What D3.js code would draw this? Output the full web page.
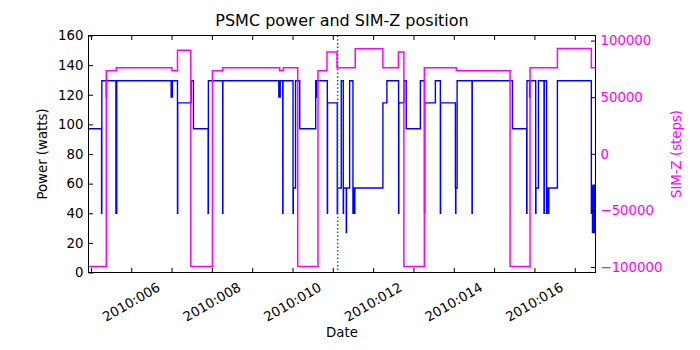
<!DOCTYPE html>
<html>
<head>
<meta charset="utf-8">
<script src="https://cdn.jsdelivr.net/npm/d3@7"></script>
<style>
  html, body { margin: 0; padding: 0; background: #fff; }
  svg { display: block; font-family: "DejaVu Sans", sans-serif; }
</style>
</head>
<body>
<svg id="chart" width="700" height="350"></svg>
<script>
// PSMC power (watts) vs. day of year 2010, as a step series
const powerDoy = [4.94, 5.264, 5.270, 5.381, 5.390, 5.620, 5.640, 6.990, 7.020, 7.147, 7.153,
  7.486, 7.543, 7.907, 7.913, 8.267, 8.273, 9.660, 9.695, 9.758, 9.764, 10.013, 10.019,
  10.075, 10.179, 10.575, 10.590, 10.600, 10.863, 10.869, 11.110, 11.116, 11.209, 11.259,
  11.265, 11.333, 11.339, 11.417, 11.499, 11.505, 11.520, 11.526, 11.540, 11.546, 12.242,
  12.341, 12.631, 12.637, 12.762, 12.820, 13.171, 13.275, 13.281, 13.543, 13.667, 13.673,
  14.040, 14.046, 14.052, 14.083, 14.452, 14.458, 15.455, 15.809, 15.815, 15.880, 15.890,
  16.032, 16.038, 16.099, 16.238, 16.244, 16.300, 16.306, 16.325, 16.331, 16.350, 16.356,
  16.570, 17.412, 17.420, 17.440, 17.450, 17.465, 17.475, 17.490, 17.515];
const powerWatts = [97, 40, 129.5, 118.5, 129.5, 40, 129.5, 118.5, 129.5, 40, 114.5,
  129.5, 97, 40, 129.5, 40, 129.5, 118.5, 129.5, 40, 129.5, 40, 57,
  129.5, 97, 129.5, 118.5, 129.5, 40, 114.5, 40, 57, 129.5, 40,
  57, 27, 57, 129.5, 40, 57, 40, 57, 40, 57, 114.5,
  129.5, 40, 114.5, 129.5, 97, 129.5, 40, 114.5, 129.5, 40, 114.5,
  57, 40, 57, 129.5, 40, 129.5, 97, 40, 129.5, 118.5, 129.5,
  40, 57, 129.5, 40, 129.5, 40, 57, 40, 57, 40, 57,
  129.5, 40, 57, 27, 59, 40, 27, 59, 59];

// SIM-Z translation stage position (steps)
const simzDoy = [4.94, 5.381, 5.628, 7.008, 7.147, 7.478, 8.014, 8.271, 9.683, 9.773, 10.129,
  10.632, 10.855, 11.103, 11.556, 12.242, 12.626, 12.762, 13.270, 14.063, 15.396, 15.891,
  16.570, 17.412, 17.515];
const simzSteps = [-99600, 73300, 76000, 73300, 91500, -99600, 73300, 76000, 73300, 76000, -99600,
  73300, 89900, 76000, 92800, 76000, 89900, -99600, 76000, 73300, -99600, 76000,
  93000, 76000, 76000];

// Marker time (dotted green line)
const markerDoy = 11.12;

const xTickDays = d3.range(5, 18);
const xLabelDays = [6, 8, 10, 12, 14, 16];
const powerTicks = [0, 20, 40, 60, 80, 100, 120, 140, 160];
const simzTicks = [-100000, -50000, 0, 50000, 100000];

const doyToDate = d => new Date(Date.UTC(2010, 0, 1) + (d - 1) * 86400000);

const svg = d3.select("#chart");
const plotL = 88.5, plotR = 595.5, plotT = 35.5, plotB = 272.5;

const x = d3.scaleUtc().domain([doyToDate(4.94), doyToDate(17.515)]).range([plotL, plotR]);
const yP = d3.scaleLinear().domain([0, 160]).range([plotB, plotT]);
const yS = d3.scaleLinear().domain([-104900, 104500]).range([plotB, plotT]);
const fmt = d3.utcFormat("%Y:%j");

svg.append("defs").append("clipPath").attr("id", "plotclip")
  .append("rect").attr("x", plotL).attr("y", plotT).attr("width", plotR - plotL).attr("height", plotB - plotT);

const plot = svg.append("g").attr("clip-path", "url(#plotclip)");

// Power series
const powerPts = powerDoy.map((d, i) => [doyToDate(d), powerWatts[i]]);
plot.append("path")
  .attr("d", d3.line().x(p => x(p[0])).y(p => yP(p[1])).curve(d3.curveStepAfter)(powerPts))
  .attr("fill", "none").attr("stroke", "#0000ff").attr("stroke-width", 1.4);

// SIM-Z series
const simzPts = simzDoy.map((d, i) => [doyToDate(d), simzSteps[i]]);
plot.append("path")
  .attr("d", d3.line().x(p => x(p[0])).y(p => yS(p[1])).curve(d3.curveStepAfter)(simzPts))
  .attr("fill", "none").attr("stroke", "#ff00ff").attr("stroke-width", 1.5);

// Marker line
plot.append("line")
  .attr("x1", x(doyToDate(markerDoy))).attr("x2", x(doyToDate(markerDoy)))
  .attr("y1", plotT).attr("y2", plotB)
  .attr("stroke", "#008000").attr("stroke-width", 1.5).attr("stroke-dasharray", "1.5,2.2");

// Axes with inward ticks
const tickDates = xTickDays.map(doyToDate);

const xBottom = svg.append("g").attr("transform", `translate(0,${plotB})`)
  .call(d3.axisBottom(x).tickValues(tickDates).tickSizeInner(-4.5).tickSizeOuter(0).tickFormat(""));
const xTop = svg.append("g").attr("transform", `translate(0,${plotT})`)
  .call(d3.axisTop(x).tickValues(tickDates).tickSizeInner(-4.5).tickSizeOuter(0).tickFormat(""));

const yLeft = svg.append("g").attr("transform", `translate(${plotL},0)`)
  .call(d3.axisLeft(yP).tickValues(powerTicks).tickSizeInner(-4.5).tickSizeOuter(0).tickPadding(5));
const yRight = svg.append("g").attr("transform", `translate(${plotR},0)`)
  .call(d3.axisRight(yS).tickValues(simzTicks).tickSizeInner(-4.5).tickSizeOuter(0).tickPadding(5)
    .tickFormat(d3.format("d")));

[xBottom, xTop, yLeft, yRight].forEach(g => {
  g.select(".domain").remove();
  g.selectAll(".tick line").attr("stroke", "#000").attr("stroke-width", 1);
  g.selectAll("text").attr("font-family", "DejaVu Sans").attr("font-size", 13.3);
});
yLeft.selectAll("text").attr("fill", "#000");
yRight.selectAll("text").attr("fill", "#ff00ff");

// Rotated date labels
svg.append("g").selectAll("text").data(xLabelDays).join("text")
  .attr("transform", d => `translate(${x(doyToDate(d))},302) rotate(-30)`)
  .attr("text-anchor", "middle").attr("dy", "0.35em")
  .attr("font-size", 13.3).attr("fill", "#000")
  .text(d => fmt(doyToDate(d)));

// Frame
svg.append("rect").attr("x", plotL).attr("y", plotT).attr("width", plotR - plotL).attr("height", plotB - plotT)
  .attr("fill", "none").attr("stroke", "#000").attr("stroke-width", 1);

// Titles and axis labels
svg.append("text").attr("x", (plotL + plotR) / 2).attr("y", 26).attr("text-anchor", "middle")
  .attr("font-size", 16).attr("fill", "#000").text("PSMC power and SIM-Z position");
svg.append("text").attr("x", (plotL + plotR) / 2).attr("y", 337).attr("text-anchor", "middle")
  .attr("font-size", 13.3).attr("fill", "#000").text("Date");
svg.append("text").attr("transform", `translate(47,154) rotate(-90)`).attr("text-anchor", "middle")
  .attr("font-size", 13.3).attr("fill", "#000").text("Power (watts)");
svg.append("text").attr("transform", `translate(681,154) rotate(-90)`).attr("text-anchor", "middle")
  .attr("font-size", 13.3).attr("fill", "#ff00ff").text("SIM-Z (steps)");
</script>
</body>
</html>
